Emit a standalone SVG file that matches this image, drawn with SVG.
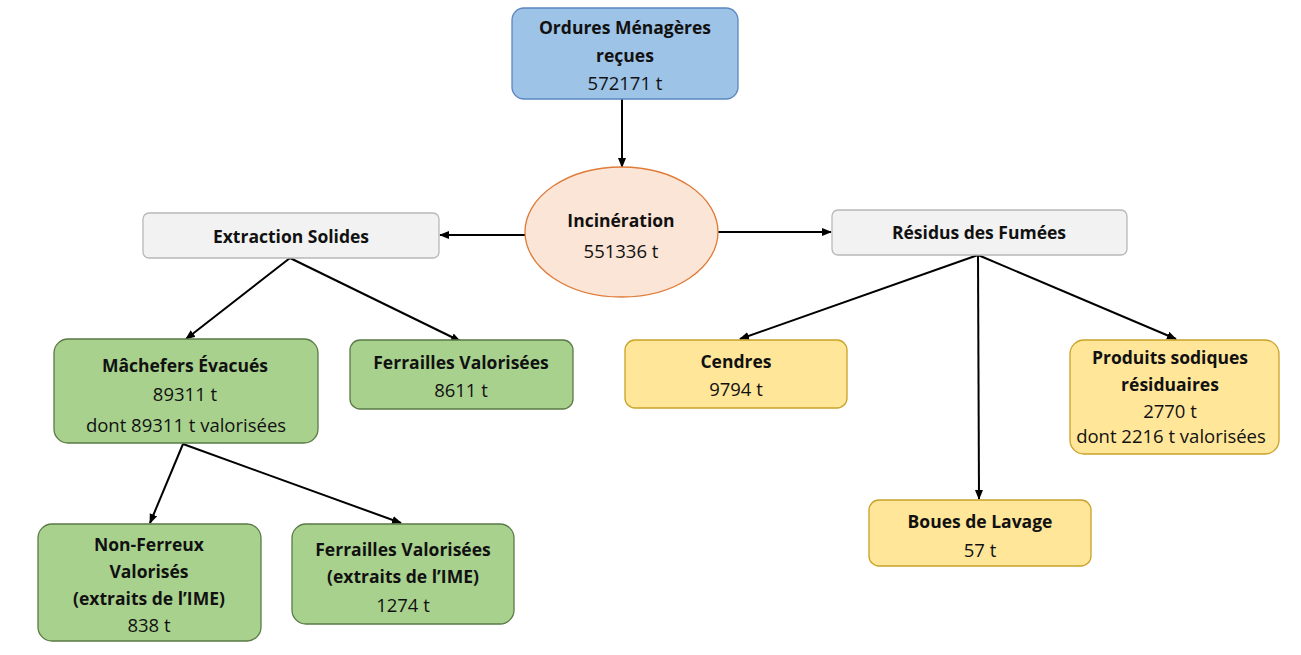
<svg xmlns="http://www.w3.org/2000/svg" width="1301" height="655" viewBox="0 0 1301 655">
<defs>
<marker id="arr" markerWidth="10" markerHeight="10" refX="9" refY="5" orient="auto" markerUnits="userSpaceOnUse">
<path d="M0,1 L10,5 L0,9 Z" fill="#000"/>
</marker>
<style>
text{font-family:"Open Sans","Liberation Sans",sans-serif;font-size:18.5px;fill:#111;text-anchor:middle;dominant-baseline:central}
.b{font-weight:bold;font-size:17.5px}
.blue{fill:#9dc3e6;stroke:#5b87be;stroke-width:1.3}
.grey{fill:#f2f2f2;stroke:#b8b8b8;stroke-width:1.3}
.green{fill:#a9d18e;stroke:#5a7a45;stroke-width:1.3}
.yellow{fill:#ffe699;stroke:#c9a227;stroke-width:1.3}
.orange{fill:#fbe5d6;stroke:#e07b39;stroke-width:1.3}
.c line{stroke:#000;stroke-width:2;marker-end:url(#arr)}
</style>
</defs>
<rect width="1301" height="655" fill="#fff"/>
<g class="c" id="connectors">
<line x1="622" y1="99" x2="622" y2="167"/>
<line x1="525" y1="235" x2="440" y2="235"/>
<line x1="718" y1="232" x2="831" y2="232"/>
<line x1="290" y1="258" x2="186" y2="339"/>
<line x1="290" y1="258" x2="460" y2="341"/>
<line x1="183" y1="444" x2="150" y2="523"/>
<line x1="183" y1="444" x2="401" y2="523"/>
<line x1="978" y1="255" x2="740" y2="339"/>
<line x1="978" y1="255" x2="979" y2="499"/>
<line x1="978" y1="255" x2="1176" y2="339"/>
</g>
<g id="ordures">
<rect class="blue" x="512" y="8" width="226" height="91" rx="12"/>
<text class="b" x="625" y="27">Ordures Ménagères</text>
<text class="b" x="625" y="55">reçues</text>
<text x="625" y="82">572171 t</text>
</g>
<g id="incineration">
<ellipse class="orange" cx="621.5" cy="232" rx="96.5" ry="65"/>
<text class="b" x="621" y="220">Incinération</text>
<text x="621" y="250">551336 t</text>
</g>
<g id="extraction">
<rect class="grey" x="143" y="213" width="296" height="45" rx="6"/>
<text class="b" x="291" y="236">Extraction Solides</text>
</g>
<g id="residus">
<rect class="grey" x="832" y="210" width="295" height="45" rx="6"/>
<text class="b" x="979" y="232">Résidus des Fumées</text>
</g>
<g id="machefers">
<rect class="green" x="54" y="339" width="264" height="104" rx="14"/>
<text class="b" x="185" y="365">Mâchefers Évacués</text>
<text x="185" y="393">89311 t</text>
<text x="186" y="424">dont 89311 t valorisées</text>
</g>
<g id="ferrailles">
<rect class="green" x="350" y="340" width="223" height="69" rx="10"/>
<text class="b" x="461" y="362">Ferrailles Valorisées</text>
<text x="461" y="389">8611 t</text>
</g>
<g id="nonferreux">
<rect class="green" x="38" y="524" width="223" height="117" rx="14"/>
<text class="b" x="149" y="544">Non-Ferreux</text>
<text class="b" x="149" y="571">Valorisés</text>
<text class="b" x="149" y="598">(extraits de l’IME)</text>
<text x="149" y="624">838 t</text>
</g>
<g id="ferraillesime">
<rect class="green" x="292" y="524" width="222" height="100" rx="14"/>
<text class="b" x="403" y="549">Ferrailles Valorisées</text>
<text class="b" x="403" y="576">(extraits de l’IME)</text>
<text x="403" y="604">1274 t</text>
</g>
<g id="cendres">
<rect class="yellow" x="625" y="340" width="222" height="68" rx="10"/>
<text class="b" x="736" y="361">Cendres</text>
<text x="736" y="388">9794 t</text>
</g>
<g id="produits">
<rect class="yellow" x="1070" y="340" width="209" height="114" rx="14"/>
<text class="b" x="1170" y="357">Produits sodiques</text>
<text class="b" x="1170" y="384">résiduaires</text>
<text x="1170" y="410">2770 t</text>
<text x="1171" y="435">dont 2216 t valorisées</text>
</g>
<g id="boues">
<rect class="yellow" x="869" y="500" width="222" height="66" rx="10"/>
<text class="b" x="980" y="521">Boues de Lavage</text>
<text x="980" y="549">57 t</text>
</g>
</svg>
